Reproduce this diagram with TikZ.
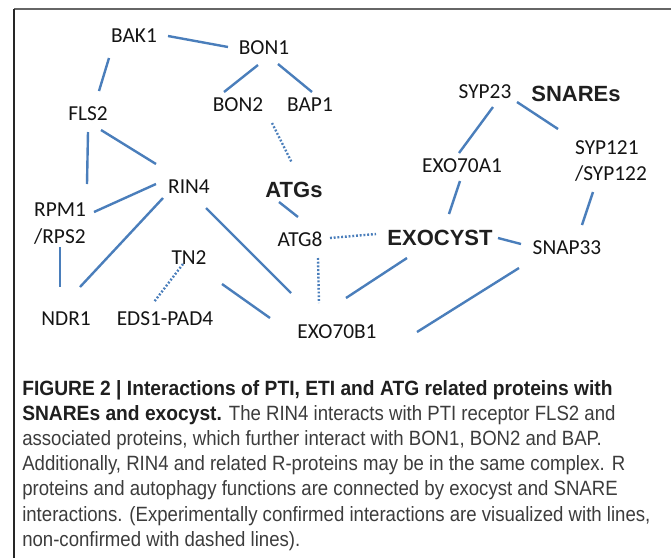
\documentclass[tikz,border=0pt]{standalone}
\usepackage{fontspec}
\setmainfont{Liberation Sans}
\newfontfamily\labfont{Carlito}
\newfontfamily\capfont[FakeStretch=0.9]{Liberation Sans}
\newfontfamily\capboldfont[FakeStretch=0.93]{Liberation Sans Bold}
\usetikzlibrary{calc}
\definecolor{edgeblue}{RGB}{74,126,187}
\definecolor{capgray}{RGB}{60,60,60}
\begin{document}
\begin{tikzpicture}[x=0.75pt,y=-0.75pt,
  lab/.style={inner sep=0pt,font=\labfont\fontsize{16}{20}\selectfont,text=black!92},
  boldlab/.style={inner sep=0pt,font=\fontsize{16.5}{19}\selectfont\bfseries,text=black!88},
  edge/.style={draw=edgeblue,line width=1.8pt},
  dotedge/.style={draw=edgeblue,line width=1.8pt,dash pattern=on 1.4pt off 1.4pt},
  capline/.style={anchor=base west,inner sep=0pt,font=\capfont\fontsize{15.5}{18}\selectfont,text=capgray},
  frameline/.style={line width=1.5pt}]
\useasboundingbox (0,0) rectangle (671,558);
% frame
\coordinate (fbl) at (14,558);
\coordinate (ftl) at (14,9);
\coordinate (ftr) at (671,9);
\draw[frameline,black!60] (ftl) -- (ftr);
\draw[line width=1pt,black!85] (fbl) -- (ftl);
% nodes
\node[lab] (bak1) at (134,36) {BAK1};
\node[lab] (bon1) at (264,48) {BON1};
\node[lab] (bon2) at (238,105) {BON2};
\node[lab] (bap1) at (310,105) {BAP1};
\node[lab] (fls2) at (88,114) {FLS2};
\node[lab] (rin4) at (189,187) {RIN4};
\node[boldlab] (atgs) at (294,190) {ATGs};
\node[lab,align=left] (rpm) at (60,223.5) {RPM1\\/RPS2};
\node[lab] (ndr1) at (66,319) {NDR1};
\node[lab] (tn2) at (189,258) {TN2};
\node[lab] (eds1) at (165,319) {EDS1-PAD4};
\node[lab] (exo70b1) at (337,332) {EXO70B1};
\node[lab] (atg8) at (300,239) {ATG8};
\node[boldlab] (exocyst) at (440,238) {EXOCYST};
\node[lab] (snap33) at (567,248) {SNAP33};
\node[lab] (syp23) at (485,92) {SYP23};
\node[boldlab] (snares) at (576,94) {SNAREs};
\node[lab] (exo70a1) at (462,166) {EXO70A1};
\node[lab,align=left] (syp) at (611,161) {SYP121\\/SYP122};
% connectors
\draw[edge] ($(bak1.center)+(34,0)$) -- ($(bon1.center)+(-36,-1)$);
\draw[edge] ($(bon1.center)+(-6,17)$) -- ($(bon2.center)+(-14,-13)$);
\draw[edge] ($(bon1.center)+(14,16)$) -- ($(bap1.center)+(2,-13)$);
\draw[edge] ($(bak1.center)+(-25,22)$) -- ($(fls2.center)+(11,-23)$);
\draw[edge] ($(fls2.center)+(0,18)$) -- ($(rpm.center)+(27,-39.5)$);
\draw[edge] ($(fls2.center)+(13,16)$) -- ($(rin4.center)+(-33,-23)$);
\draw[dotedge] ($(bon2.center)+(34,18)$) -- ($(atgs.center)+(-2,-27)$);
\draw[edge] ($(syp23.center)+(8,15)$) -- ($(exo70a1.center)+(-3,-13)$);
\draw[edge] ($(syp23.center)+(32,10)$) -- ($(syp.center)+(-53,-32)$);
\draw[edge] ($(exo70a1.center)+(-2,15)$) -- ($(exocyst.center)+(9,-24)$);
\draw[edge] ($(syp.center)+(-18,31)$) -- ($(snap33.center)+(15,-23)$);
\draw[edge] ($(rin4.center)+(-33,-3)$) -- ($(rpm.center)+(34,-11.5)$);
\draw[edge] ($(rin4.center)+(-26,11)$) -- ($(ndr1.center)+(14,-32)$);
\draw[edge] ($(rpm.center)+(0,23.5)$) -- ($(ndr1.center)+(-6,-32)$);
\draw[edge] ($(rin4.center)+(17,21)$) -- ($(exo70b1.center)+(-46,-39)$);
\draw[edge] ($(atgs.center)+(-15,12)$) -- ($(atg8.center)+(-2,-22)$);
\draw[dotedge] ($(atg8.center)+(30,-1)$) -- ($(exocyst.center)+(-64,-4)$);
\draw[dotedge] ($(atg8.center)+(18,19)$) -- ($(exo70b1.center)+(-18,-29)$);
\draw[dotedge] ($(tn2.center)+(-6,6)$) -- ($(eds1.center)+(-11,-17)$);
\draw[edge] ($(eds1.center)+(57,-35)$) -- ($(exo70b1.center)+(-67,-14)$);
\draw[edge] ($(exocyst.center)+(-33,20)$) -- ($(exo70b1.center)+(9,-34)$);
\draw[edge] ($(snap33.center)+(-48,20)$) -- ($(exo70b1.center)+(80,0)$);
\draw[edge] ($(exocyst.center)+(58,0)$) -- ($(snap33.center)+(-46,-4)$);
% caption
\node[capline,text=black!88] (cap1) at (22,395) {\capboldfont FIGURE 2 | Interactions of PTI, ETI and ATG related proteins with};
\node[capline] (cap2) at (22,420.2) {{\capboldfont\color{black!88}SNAREs and exocyst.} The RIN4 interacts with PTI receptor FLS2 and};
\node[capline] (cap3) at (22,445.4) {associated proteins, which further interact with BON1, BON2 and BAP.};
\node[capline] (cap4) at (22,470.6) {Additionally, RIN4 and related R-proteins may be in the same complex. R};
\node[capline] (cap5) at (22,495.8) {proteins and autophagy functions are connected by exocyst and SNARE};
\node[capline] (cap6) at (22,521) {interactions. (Experimentally confirmed interactions are visualized with lines,};
\node[capline] (cap7) at (22,546.2) {non-confirmed with dashed lines).};
\end{tikzpicture}
\end{document}
